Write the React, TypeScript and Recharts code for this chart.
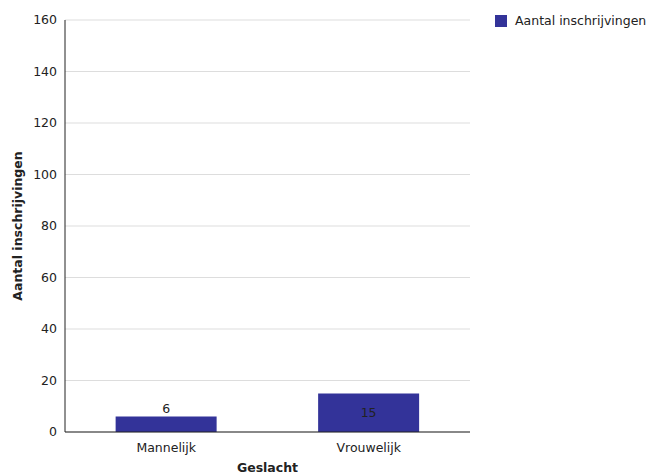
import { BarChart, Bar, XAxis, YAxis, CartesianGrid, Legend, LabelList, Label } from "recharts";

const CATEGORIES = ["Mannelijk", "Vrouwelijk"];
const INSCHRIJVINGEN = [6, 15];
const Y_TICKS = [0, 20, 40, 60, 80, 100, 120, 140, 160];

const FONT = "'DejaVu Sans', Verdana, sans-serif";
const BAR_COLOR = "#333399";

const data = CATEGORIES.map((c, i) => ({ name: c, value: INSCHRIJVINGEN[i] }));

function BarValue(props: any) {
  const { x, y, width, height, value } = props;
  const inside = height > 24;
  return (
    <text
      x={x + width / 2}
      y={inside ? y + height / 2 : y - 8}
      textAnchor="middle"
      dominantBaseline="central"
      fontSize={12.5}
      fontFamily={FONT}
      fill="#222"
    >
      {value}
    </text>
  );
}

function LegendBox() {
  return (
    <div style={{ display: "flex", alignItems: "center", fontFamily: FONT, fontSize: 12.5, color: "#222" }}>
      <span style={{ display: "inline-block", width: 12, height: 12, background: BAR_COLOR, marginRight: 8 }} />
      Aantal inschrijvingen
    </div>
  );
}

export default function App() {
  return (
    <div style={{ position: "absolute", left: 0, top: 0, background: "#fff" }}>
      <BarChart
        width={650}
        height={476}
        data={data}
        margin={{ top: 20, right: 20, left: 0, bottom: 0 }}
        barCategoryGap="25%"
      >
        <CartesianGrid vertical={false} stroke="#dddddd" />
        <XAxis
          dataKey="name"
          height={44}
          tickLine={false}
          tickMargin={5}
          axisLine={{ stroke: "#222" }}
          tick={{ fontSize: 12.5, fontFamily: FONT, fill: "#222" }}
        >
          <Label
            value="Geslacht"
            position="insideBottom"
            offset={4}
            style={{ fontSize: 12.5, fontFamily: FONT, fontWeight: "bold", fill: "#222" }}
          />
        </XAxis>
        <YAxis
          width={65}
          domain={[0, 160]}
          ticks={Y_TICKS}
          tickLine={false}
          axisLine={{ stroke: "#222" }}
          tick={{ fontSize: 12.5, fontFamily: FONT, fill: "#222" }}
        >
          <Label
            content={({ viewBox }: any) => (
              <text
                x={17}
                y={viewBox.y + viewBox.height / 2}
                transform={`rotate(-90, 17, ${viewBox.y + viewBox.height / 2})`}
                textAnchor="middle"
                dominantBaseline="central"
                fontSize={12.5}
                fontWeight="bold"
                fontFamily={FONT}
                fill="#222"
              >
                Aantal inschrijvingen
              </text>
            )}
          />
        </YAxis>
        <Legend
          layout="vertical"
          align="right"
          verticalAlign="top"
          content={() => <LegendBox />}
          wrapperStyle={{ left: 495, top: 13, width: 160 }}
        />
        <Bar dataKey="value" name="Aantal inschrijvingen" fill={BAR_COLOR} isAnimationActive={false}>
          <LabelList dataKey="value" content={<BarValue />} />
        </Bar>
      </BarChart>
    </div>
  );
}
